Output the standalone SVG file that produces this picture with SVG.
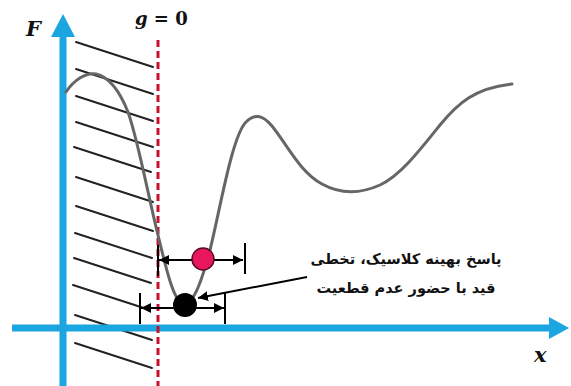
<svg xmlns="http://www.w3.org/2000/svg" width="571" height="386" viewBox="0 0 571 386">
<defs>
<style>
.axis{stroke:#1BA6E2;stroke-width:7;fill:none}
.axhead{fill:#1BA6E2}
.hatch{stroke:#222;stroke-width:2;stroke-linecap:round}
.curve{stroke:#666;stroke-width:3;fill:none;stroke-linecap:round}
.limit{stroke:#C8102E;stroke-width:3;stroke-dasharray:7 4;fill:none}
.dim{stroke:#000;stroke-width:2;fill:none}
.bar{stroke:#000;stroke-width:2}
.lbl{font-family:"DejaVu Serif",serif;font-weight:bold;font-style:italic;fill:#111}
.up{font-style:normal}
.fa{font-family:"DejaVu Sans",sans-serif;font-weight:bold;font-size:14.5px;fill:#111}
</style>
<marker id="ah" viewBox="0 0 10 10" refX="10" refY="5" markerWidth="10" markerHeight="10" markerUnits="userSpaceOnUse" orient="auto-start-reverse">
<path d="M0,0 L10,5 L0,10 z" fill="#000"/>
</marker>
</defs>
<rect width="571" height="386" fill="#fff"/>
<g id="hatching">
<line class="hatch" x1="76" y1="42" x2="153" y2="67"/>
<line class="hatch" x1="76" y1="69" x2="153" y2="94"/>
<line class="hatch" x1="76" y1="96" x2="153" y2="121"/>
<line class="hatch" x1="76" y1="122" x2="153" y2="147"/>
<line class="hatch" x1="74" y1="147" x2="151" y2="172"/>
<line class="hatch" x1="76" y1="177" x2="153" y2="202"/>
<line class="hatch" x1="76" y1="206" x2="153" y2="231"/>
<line class="hatch" x1="75" y1="233" x2="152" y2="258"/>
<line class="hatch" x1="74" y1="258" x2="151" y2="283"/>
<line class="hatch" x1="73" y1="285" x2="150" y2="310"/>
<line class="hatch" x1="75" y1="315" x2="152" y2="340"/>
<line class="hatch" x1="75" y1="343" x2="152" y2="368"/>
</g>
<g id="axes">
<line class="axis" x1="63" y1="34" x2="63" y2="386"/>
<path class="axhead" d="M63,14 L75,37 L51,37 z"/>
<line class="axis" x1="12" y1="328" x2="552" y2="328"/>
<path class="axhead" d="M569,328 L549,317 L549,339 z"/>
<text id="label-F" class="lbl" x="26" y="36" font-size="21">F</text>
<text id="label-x" class="lbl" x="534" y="362" font-size="21">x</text>
</g>
<g id="constraint">
<line class="limit" x1="158" y1="40" x2="158" y2="386"/>
<text id="label-g" class="lbl" x="135" y="25" font-size="18">g <tspan class="up">= 0</tspan></text>
</g>
<g id="objective">
<path class="curve" d="M66,92 C74,80 86,72 96,74 C110,77 120,92 128,112 C138,140 148,195 158,235 C166,268 174,304 184,304 C194,304 202,280 210,250 C220,210 232,136 246,122 C254,114 262,114 272,126 C288,146 300,172 322,184 C340,194 360,194 380,185 C400,176 420,150 440,125 C458,103 475,88 512,84"/>
</g>
<g id="connectors">
<line class="dim" x1="159" y1="260" x2="243" y2="260" marker-start="url(#ah)" marker-end="url(#ah)"/>
<line class="bar" x1="158" y1="245" x2="158" y2="276"/>
<line class="bar" x1="245" y1="243" x2="245" y2="274"/>
<line class="dim" x1="141" y1="308" x2="224" y2="308" marker-start="url(#ah)" marker-end="url(#ah)"/>
<line class="bar" x1="140" y1="293" x2="140" y2="324"/>
<line class="bar" x1="225" y1="293" x2="225" y2="324"/>
<line class="dim" x1="307" y1="277" x2="198" y2="298" marker-end="url(#ah)"/>
</g>
<g id="robust-point">
<circle cx="203" cy="259" r="11" fill="#E8175D" stroke="#5a0a20" stroke-width="1.5"/>
</g>
<g id="classic-point">
<circle cx="185" cy="305" r="12" fill="#000"/>
</g>
<g id="annotation">
<text class="fa" x="406" y="264" text-anchor="middle" direction="rtl">پاسخ بهینه کلاسیک، تخطی</text>
<text class="fa" x="406" y="293" text-anchor="middle" direction="rtl">قید با حضور عدم قطعیت</text>
</g>
</svg>
